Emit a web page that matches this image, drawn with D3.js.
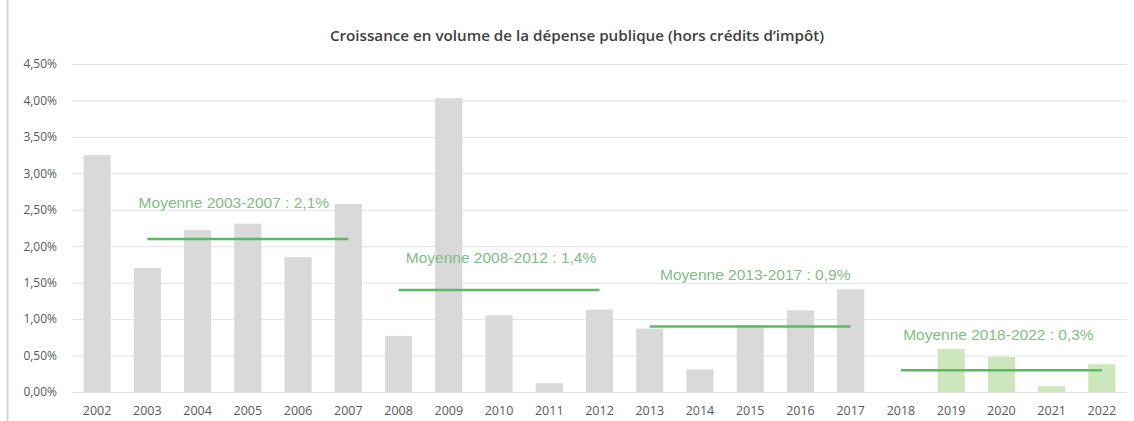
<!DOCTYPE html>
<html>
<head>
<meta charset="utf-8">
<script src="https://cdn.jsdelivr.net/npm/d3@7"></script>
<style>
  body { margin: 0; background: #fff; }
  svg { display: block; }
</style>
</head>
<body>
<div id="chart"></div>
<script>
// data (growth in %)
const years = ['2002','2003','2004','2005','2006','2007','2008','2009','2010','2011','2012',
	'2013','2014','2015','2016','2017','2018','2019','2020','2021','2022'];
const growth = [3.25, 1.70, 2.22, 2.31, 1.85, 2.58, 0.77, 4.03, 1.05, 0.12, 1.13,
	0.87, 0.31, 0.92, 1.12, 1.41, 0, 0.59, 0.48, 0.08, 0.38];
const forecastFrom = '2018';

const avgFrom = ['2003', '2008', '2013', '2018'];
const avgTo = ['2007', '2012', '2017', '2022'];
const avgValues = [2.1, 1.4, 0.9, 0.3];
const avgLabels = ['Moyenne 2003-2007 : 2,1%', 'Moyenne 2008-2012 : 1,4%',
	'Moyenne 2013-2017 : 0,9%', 'Moyenne 2018-2022 : 0,3%'];

const yTicks = [0, 0.5, 1, 1.5, 2, 2.5, 3, 3.5, 4, 4.5];
const title = 'Croissance en volume de la dépense publique (hors crédits d\u2019impôt)';

const W = 1134;
const H = 421;
const margin = {t:64, r:7, b:29, l:72};

// label offsets relative to average line (layout only)
const labelDx = [-14, 2, 5, -3];
const labelDy = [-31, -27, -46, -30];

const scaleX = d3.scaleBand()
	.domain(years)
	.range([margin.l, W - margin.r])
	.paddingInner(0.46)
	.paddingOuter(0.23);
const scaleY = d3.scaleLinear()
	.domain([0, 4.5])
	.range([H - margin.b, margin.t]);

const svg = d3.select('#chart').append('svg')
	.attr('width', W)
	.attr('height', H);

// frame line on the left
svg.append('line')
	.attr('x1', 7.5).attr('x2', 7.5)
	.attr('y1', 0).attr('y2', H)
	.style('stroke', '#d4d4d4')
	.style('stroke-width', 2);

svg.append('text')
	.attr('x', 577)
	.attr('y', 41)
	.attr('text-anchor', 'middle')
	.style('font-family', 'Open Sans, sans-serif')
	.style('font-size', '15.2px')
	.style('font-weight', 600)
	.style('fill', '#404040')
	.text(title);

// gridlines + y labels
const axisY = d3.axisLeft(scaleY)
	.tickValues(yTicks)
	.tickSize(-(W - margin.r - margin.l))
	.tickPadding(15)
	.tickFormat(v => v.toFixed(2).replace('.', ',') + '%');

const gy = svg.append('g')
	.attr('class', 'axis axis-y')
	.attr('transform', `translate(${margin.l},0)`)
	.call(axisY);
gy.select('.domain').remove();
gy.selectAll('line').style('stroke', '#e2e2e2').style('stroke-width', 1);
gy.selectAll('text')
	.style('font-family', 'Open Sans, sans-serif')
	.style('font-size', '12px')
	.style('fill', '#595959');

// bars
svg.append('g').selectAll('rect')
	.data(years.map((y, i) => ({year: y, value: growth[i]})))
	.join('rect')
	.attr('x', d => scaleX(d.year))
	.attr('width', scaleX.bandwidth())
	.attr('y', d => scaleY(d.value))
	.attr('height', d => scaleY(0) - scaleY(d.value))
	.style('fill', d => d.year >= forecastFrom ? '#cbe7bb' : '#d9d9d9');

// x axis
const axisX = d3.axisBottom(scaleX).tickSize(0).tickPadding(14);
const gx = svg.append('g')
	.attr('class', 'axis axis-x')
	.attr('transform', `translate(0,${scaleY(0)})`)
	.call(axisX);
gx.select('.domain').remove();
gx.selectAll('text')
	.style('font-family', 'Open Sans, sans-serif')
	.style('font-size', '12.5px')
	.style('fill', '#595959');

// averages
const avgData = avgValues.map((v, i) => ({
	x1: scaleX(avgFrom[i]) + scaleX.bandwidth() / 2,
	x2: scaleX(avgTo[i]) + scaleX.bandwidth() / 2,
	value: v, label: avgLabels[i], dx: labelDx[i], dy: labelDy[i]
}));

const avg = svg.append('g').selectAll('g')
	.data(avgData)
	.join('g');

avg.append('line')
	.attr('x1', d => d.x1)
	.attr('x2', d => d.x2)
	.attr('y1', d => scaleY(d.value))
	.attr('y2', d => scaleY(d.value))
	.style('stroke', '#5db763')
	.style('stroke-width', 2.5);

avg.append('text')
	.attr('x', d => (d.x1 + d.x2) / 2 + d.dx)
	.attr('y', d => scaleY(d.value) + d.dy)
	.attr('text-anchor', 'middle')
	.style('font-family', 'Liberation Sans, Arial, sans-serif')
	.style('font-size', '15.5px')
	.style('fill', '#82bd85')
	.text(d => d.label);
</script>
</body>
</html>
